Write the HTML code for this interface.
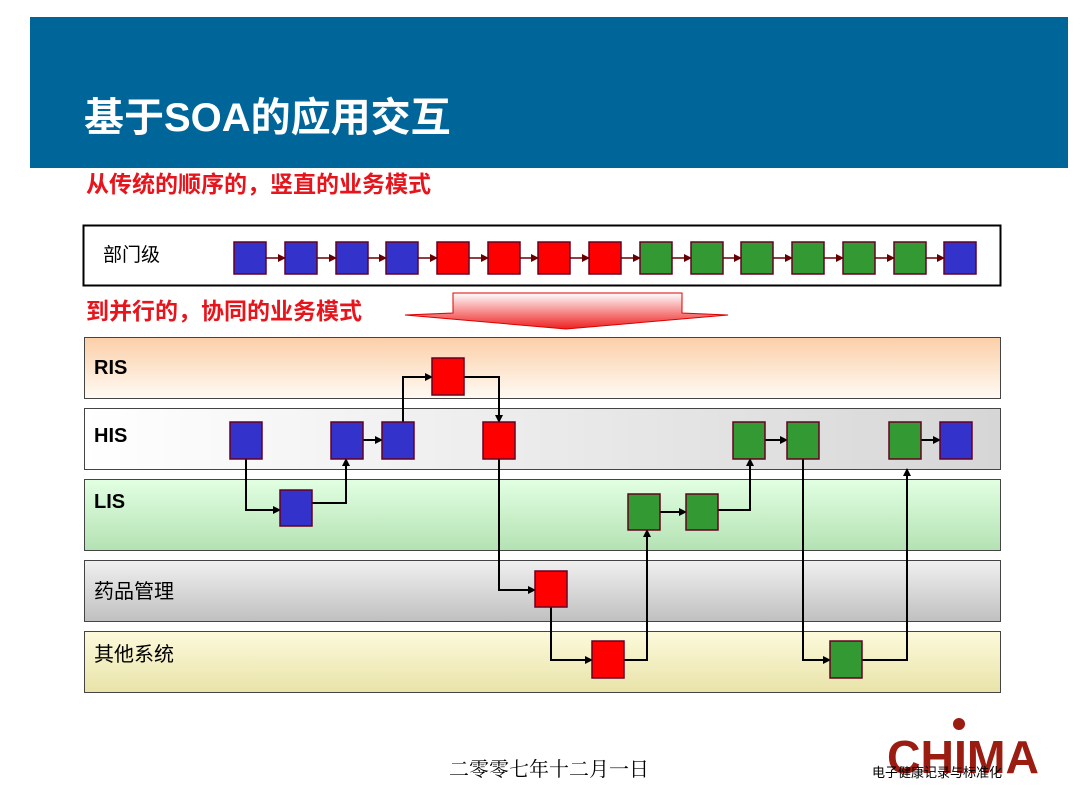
<!DOCTYPE html>
<html><head><meta charset="utf-8"><style>
body{margin:0;width:1081px;height:787px;background:#fff;overflow:hidden}
svg{display:block}
text{font-family:"Liberation Sans","Noto Sans CJK SC",sans-serif}
</style></head><body>
<svg width="1081" height="787" viewBox="0 0 1081 787">
<defs>
<linearGradient id="ris" x1="0" y1="0" x2="0" y2="1"><stop offset="0" stop-color="#fbcfa8"/><stop offset="1" stop-color="#fffaf4"/></linearGradient>
<linearGradient id="his" x1="0" y1="0" x2="1" y2="0"><stop offset="0" stop-color="#ffffff"/><stop offset="1" stop-color="#d6d6d6"/></linearGradient>
<linearGradient id="lis" x1="0" y1="0" x2="0" y2="1"><stop offset="0" stop-color="#e2ffe2"/><stop offset="1" stop-color="#b4e2b4"/></linearGradient>
<linearGradient id="drug" x1="0" y1="0" x2="0" y2="1"><stop offset="0" stop-color="#f0f0f0"/><stop offset="0.5" stop-color="#d8d8d8"/><stop offset="1" stop-color="#c0c0c0"/></linearGradient>
<linearGradient id="oth" x1="0" y1="0" x2="0" y2="1"><stop offset="0" stop-color="#fdfadc"/><stop offset="1" stop-color="#e8e3a8"/></linearGradient>
<linearGradient id="arr" x1="0" y1="0" x2="0" y2="1"><stop offset="0" stop-color="#ffffff"/><stop offset="1" stop-color="#ee2020"/></linearGradient>
<marker id="m" markerWidth="8" markerHeight="8" refX="7" refY="4" orient="auto" markerUnits="userSpaceOnUse"><path d="M0,0 L8,4 L0,8 z" fill="#000"/></marker>
<marker id="m2" markerWidth="8" markerHeight="8" refX="7" refY="4" orient="auto" markerUnits="userSpaceOnUse"><path d="M0,0 L8,4 L0,8 z" fill="#600"/></marker>
</defs>
<rect x="30" y="17" width="1038" height="151" fill="#006699"/>
<text x="84" y="131" font-size="40" font-weight="bold" fill="#fff">基于SOA的应用交互</text>
<text x="86" y="192" font-size="23" font-weight="bold" fill="#e8141c">从传统的顺序的，竖直的业务模式</text>
<rect x="83.5" y="225.5" width="917" height="60" fill="#fff" stroke="#000" stroke-width="2"/>
<text x="103" y="261" font-size="19" fill="#000">部门级</text>
<g stroke="#600" stroke-width="1.5" marker-end="url(#m2)">
<line x1="266" y1="258" x2="285" y2="258"/><line x1="317" y1="258" x2="336" y2="258"/><line x1="368" y1="258" x2="386" y2="258"/><line x1="418" y1="258" x2="437" y2="258"/><line x1="469" y1="258" x2="488" y2="258"/><line x1="520" y1="258" x2="538" y2="258"/><line x1="570" y1="258" x2="589" y2="258"/><line x1="621" y1="258" x2="640" y2="258"/><line x1="672" y1="258" x2="691" y2="258"/><line x1="723" y1="258" x2="741" y2="258"/><line x1="773" y1="258" x2="792" y2="258"/><line x1="824" y1="258" x2="843" y2="258"/><line x1="875" y1="258" x2="894" y2="258"/><line x1="926" y1="258" x2="944" y2="258"/>
</g>
<g stroke="#602" stroke-width="1.5">
<rect x="234" y="242" width="32" height="32" fill="#3333cc"/><rect x="285" y="242" width="32" height="32" fill="#3333cc"/><rect x="336" y="242" width="32" height="32" fill="#3333cc"/><rect x="386" y="242" width="32" height="32" fill="#3333cc"/>
<rect x="437" y="242" width="32" height="32" fill="#f00"/><rect x="488" y="242" width="32" height="32" fill="#f00"/><rect x="538" y="242" width="32" height="32" fill="#f00"/><rect x="589" y="242" width="32" height="32" fill="#f00"/>
<rect x="640" y="242" width="32" height="32" fill="#339933"/><rect x="691" y="242" width="32" height="32" fill="#339933"/><rect x="741" y="242" width="32" height="32" fill="#339933"/><rect x="792" y="242" width="32" height="32" fill="#339933"/><rect x="843" y="242" width="32" height="32" fill="#339933"/><rect x="894" y="242" width="32" height="32" fill="#339933"/>
<rect x="944" y="242" width="32" height="32" fill="#3333cc"/>
</g>
<text x="86" y="319" font-size="23" font-weight="bold" fill="#e8141c">到并行的，协同的业务模式</text>
<path d="M453,293 H682 V313 L728,315 L566,329 L405,315 L453,313 Z" fill="url(#arr)" stroke="#d00" stroke-width="1"/>
<g stroke="#444" stroke-width="1">
<rect x="84.5" y="337.5" width="916" height="61" fill="url(#ris)"/>
<rect x="84.5" y="408.5" width="916" height="61" fill="url(#his)"/>
<rect x="84.5" y="479.5" width="916" height="71" fill="url(#lis)"/>
<rect x="84.5" y="560.5" width="916" height="61" fill="url(#drug)"/>
<rect x="84.5" y="631.5" width="916" height="61" fill="url(#oth)"/>
</g>
<g font-size="20" font-weight="bold" fill="#000"><text x="94" y="374">RIS</text><text x="94" y="442">HIS</text><text x="94" y="508">LIS</text></g>
<g font-size="20" fill="#000"><text x="94" y="598">药品管理</text><text x="94" y="661">其他系统</text></g>
<g fill="none" stroke="#000" stroke-width="2" marker-end="url(#m)">
<polyline points="246,459 246,510 280,510"/>
<polyline points="312,503 346,503 346,459"/>
<polyline points="363,440 382,440"/>
<polyline points="403,422 403,377 432,377"/>
<polyline points="464,377 499,377 499,422"/>
<polyline points="499,459 499,590 535,590"/>
<polyline points="551,607 551,660 592,660"/>
<polyline points="624,660 647,660 647,530"/>
<polyline points="660,512 686,512"/>
<polyline points="718,510 750,510 750,459"/>
<polyline points="765,440 787,440"/>
<polyline points="803,459 803,660 830,660"/>
<polyline points="862,660 907,660 907,469"/>
<polyline points="921,440 940,440"/>
</g>
<g stroke="#602" stroke-width="1.5">
<rect x="432" y="358" width="32" height="37" fill="#f00"/>
<rect x="230" y="422" width="32" height="37" fill="#3333cc"/><rect x="331" y="422" width="32" height="37" fill="#3333cc"/><rect x="382" y="422" width="32" height="37" fill="#3333cc"/>
<rect x="483" y="422" width="32" height="37" fill="#f00"/>
<rect x="733" y="422" width="32" height="37" fill="#339933"/><rect x="787" y="422" width="32" height="37" fill="#339933"/><rect x="889" y="422" width="32" height="37" fill="#339933"/>
<rect x="940" y="422" width="32" height="37" fill="#3333cc"/>
<rect x="280" y="490" width="32" height="36" fill="#3333cc"/>
<rect x="628" y="494" width="32" height="36" fill="#339933"/><rect x="686" y="494" width="32" height="36" fill="#339933"/>
<rect x="535" y="571" width="32" height="36" fill="#f00"/>
<rect x="592" y="641" width="32" height="37" fill="#f00"/>
<rect x="830" y="641" width="32" height="37" fill="#339933"/>
</g>
<text x="549" y="776" font-size="20" text-anchor="middle" fill="#000" style="font-family:'Liberation Serif','Noto Serif CJK SC',serif">二零零七年十二月一日</text>
<circle cx="959" cy="724" r="6" fill="#9b1c10"/>
<text x="887" y="773" font-size="46" font-weight="bold" fill="#9b1c10" textLength="152" lengthAdjust="spacingAndGlyphs">CHIMA</text>
<text x="872" y="777" font-size="13" fill="#000">电子健康记录与标准化</text>
</svg>
</body></html>
